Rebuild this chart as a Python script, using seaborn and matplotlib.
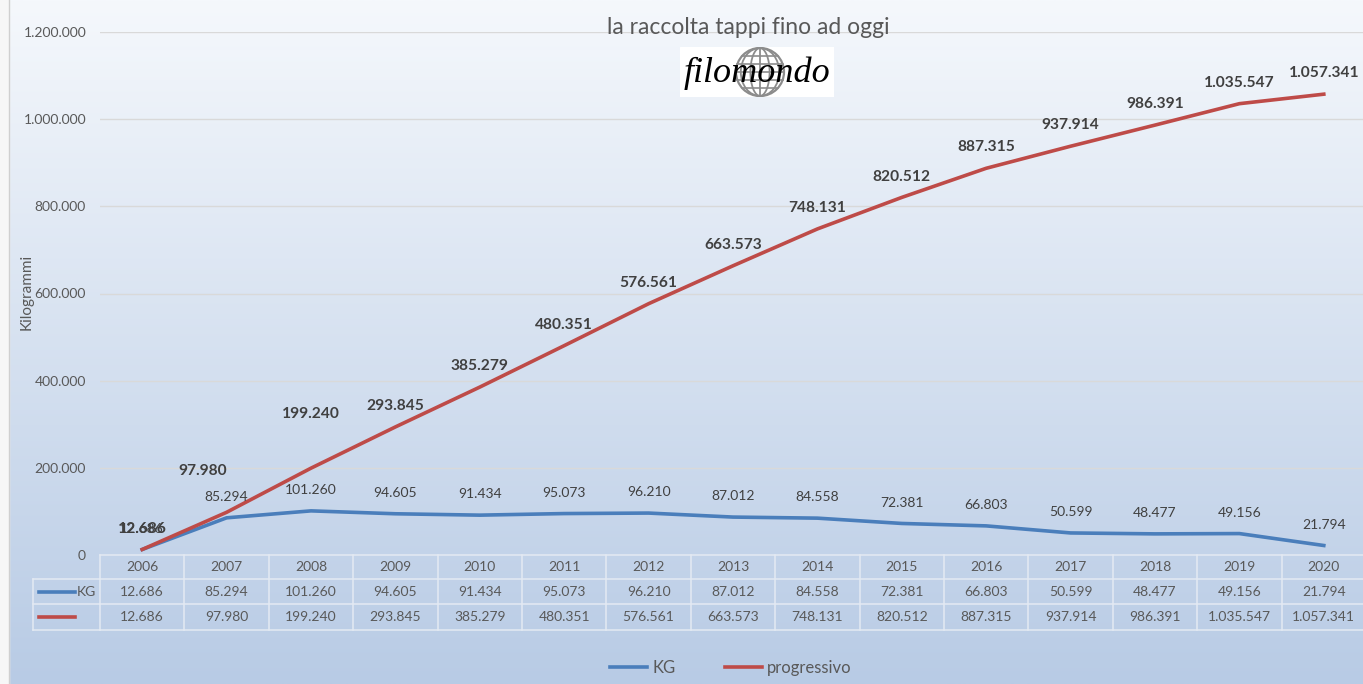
import numpy as np
import pandas as pd
import matplotlib.pyplot as plt
import seaborn as sns
from matplotlib.ticker import FuncFormatter
from matplotlib.transforms import blended_transform_factory
from matplotlib.lines import Line2D
from matplotlib.patches import Circle, Ellipse, Rectangle

# data
years = [2006, 2007, 2008, 2009, 2010, 2011, 2012, 2013, 2014, 2015, 2016, 2017, 2018, 2019, 2020]
kg = [12686, 85294, 101260, 94605, 91434, 95073, 96210, 87012, 84558, 72381, 66803, 50599, 48477, 49156, 21794]
progressivo = [12686, 97980, 199240, 293845, 385279, 480351, 576561, 663573, 748131, 820512, 887315,
               937914, 986391, 1035547, 1057341]
y_ticks = [0, 200000, 400000, 600000, 800000, 1000000, 1200000]

BLUE = '#4a7ebb'
RED = '#be4b48'
GREY = '#595959'
DARK = '#404040'

def fmt(v):
    return f"{int(v):,}".replace(',', '.')

df = pd.DataFrame({'anno': years * 2,
                   'kg': kg + progressivo,
                   'serie': ['KG'] * len(years) + ['progressivo'] * len(years)})

W, H = 1363, 684
fig = plt.figure(figsize=(W / 100, H / 100), dpi=100)
plt.rcParams['font.family'] = ['Lato', 'DejaVu Sans']

# gradient background
bg = fig.add_axes([0, 0, 1, 1], zorder=-10)
top = np.array([245, 248, 252]) / 255
bot = np.array([184, 203, 229]) / 255
t = np.linspace(0, 1, 256)[:, None]
grad = top * (1 - t[..., None]) + bot * t[..., None]
grad = np.repeat(grad, 2, axis=1)
bg.imshow(grad, aspect='auto', extent=[0, 1, 0, 1])
bg.add_patch(Rectangle((0, 0), 9 / W, 1, color='#f7f7f7', zorder=2))
bg.axvline(9 / W, color='#d0d0d0', lw=1)
bg.set_xlim(0, 1)
bg.set_ylim(0, 1)
bg.axis('off')

# main axes (pixel layout)
left, right = 100, 1366
ytop, ybot = 32, 555
ax = fig.add_axes([left / W, 1 - ybot / H, (right - left) / W, (ybot - ytop) / H])
ax.set_facecolor('none')

sns.lineplot(data=df, x='anno', y='kg', hue='serie', palette={'KG': BLUE, 'progressivo': RED},
             linewidth=2.6, ax=ax, legend=False, zorder=3)

ax.set_xlim(years[0] - 0.5, years[-1] + 0.5)
ax.set_ylim(0, 1200000)
ax.set_yticks(y_ticks)
ax.yaxis.set_major_formatter(FuncFormatter(lambda v, p: fmt(v)))
ax.tick_params(axis='y', length=0, pad=10, labelsize=10, labelcolor=GREY)
ax.set_xticks([])
ax.set_xlabel('')
ax.set_ylabel('')
for s in ax.spines.values():
    s.set_visible(False)
for v in y_ticks[1:]:
    ax.axhline(v, color='#d9d9d9', lw=1, zorder=1)

# data labels
red_nudge = {2007: (-17, 30), 2008: (0, 39)}
for x, v in zip(years, kg):
    ax.annotate(fmt(v), (x, v), xytext=(0, 15), textcoords='offset points',
                ha='center', va='center', fontsize=10, color=DARK, zorder=5)
for x, v in zip(years, progressivo):
    dx, dy = red_nudge.get(x, (0, 15))
    ax.annotate(fmt(v), (x, v), xytext=(dx, dy), textcoords='offset points',
                ha='center', va='center', fontsize=11.2, fontweight='bold', color=DARK, zorder=5)

fig.text(27 / W, 1 - 292 / H, 'Kilogrammi', rotation=90, ha='center', va='center',
         fontsize=11, color=GREY)
fig.text(748 / W, 1 - 27 / H, 'la raccolta tappi fino ad oggi', ha='center', va='center',
         fontsize=16.5, color=GREY)

# logo
lg = fig.add_axes([680 / W, 1 - 97 / H, 154 / W, 50 / H])
lg.set_xlim(0, 154)
lg.set_ylim(0, 50)
lg.axis('off')
lg.add_patch(Rectangle((0, 0), 154, 50, color='white'))
gc = (80, 25)
r = 24
lg.add_patch(Circle(gc, r, fill=False, ec='#8c8c8c', lw=1.6))
for w in [0.4, 0.8]:
    lg.add_patch(Ellipse(gc, 2 * r * w, 2 * r, fill=False, ec='#8c8c8c', lw=1.3))
lg.plot([gc[0], gc[0]], [gc[1] - r, gc[1] + r], color='#8c8c8c', lw=1.3)
for dy in [-16, -8, 0, 8, 16]:
    half = np.sqrt(r ** 2 - dy ** 2)
    lg.plot([gc[0] - half, gc[0] + half], [gc[1] + dy, gc[1] + dy], color='#8c8c8c', lw=1.2)
lg.text(77, 24, 'filomondo', ha='center', va='center', fontsize=26, style='italic',
        family='Liberation Serif', color='black')

# data table below the plot
tr = blended_transform_factory(ax.transData, fig.transFigure)
def fy(px):
    return 1 - px / H

line_kw = dict(color='#e4eaf3', lw=1.1)
rows_y = [555, 579, 604, 630]
x0, x1 = years[0] - 0.5, years[-1] + 0.5
ax_left_fig = left / W
ax.add_line(Line2D([x0, x1], [fy(555)] * 2, transform=tr, clip_on=False, **line_kw))
for py in rows_y[1:]:
    fig.add_artist(Line2D([33 / W, ax_left_fig], [fy(py)] * 2, **line_kw))
    ax.add_line(Line2D([x0, x1], [fy(py)] * 2, transform=tr, clip_on=False, **line_kw))
fig.add_artist(Line2D([33 / W, 33 / W], [fy(579), fy(630)], **line_kw))
for k in range(len(years) + 1):
    xb = years[0] - 0.5 + k
    ax.add_line(Line2D([xb, xb], [fy(555), fy(630)], transform=tr, clip_on=False, **line_kw))

for x, a, b in zip(years, kg, progressivo):
    ax.text(x, fy(567), str(x), transform=tr, ha='center', va='center', fontsize=10, color=GREY)
    ax.text(x, fy(591.5), fmt(a), transform=tr, ha='center', va='center', fontsize=10, color=GREY)
    ax.text(x, fy(617), fmt(b), transform=tr, ha='center', va='center', fontsize=10, color=GREY)

fig.add_artist(Line2D([39 / W, 75 / W], [fy(591.5)] * 2, color=BLUE, lw=2.6))
fig.text(77 / W, fy(591.5), 'KG', ha='left', va='center', fontsize=10, color=GREY)
fig.add_artist(Line2D([39 / W, 75 / W], [fy(617)] * 2, color=RED, lw=2.6))

# legend
handles = [Line2D([], [], color=BLUE, lw=2.6), Line2D([], [], color=RED, lw=2.6)]
fig.legend(handles, ['KG', 'progressivo'], loc='center', bbox_to_anchor=(731 / W, fy(668)),
           ncol=2, frameon=False, fontsize=12, labelcolor=GREY, handlelength=2.2,
           handletextpad=0.3, columnspacing=3.0)

fig.savefig('out.png', dpi=100)
